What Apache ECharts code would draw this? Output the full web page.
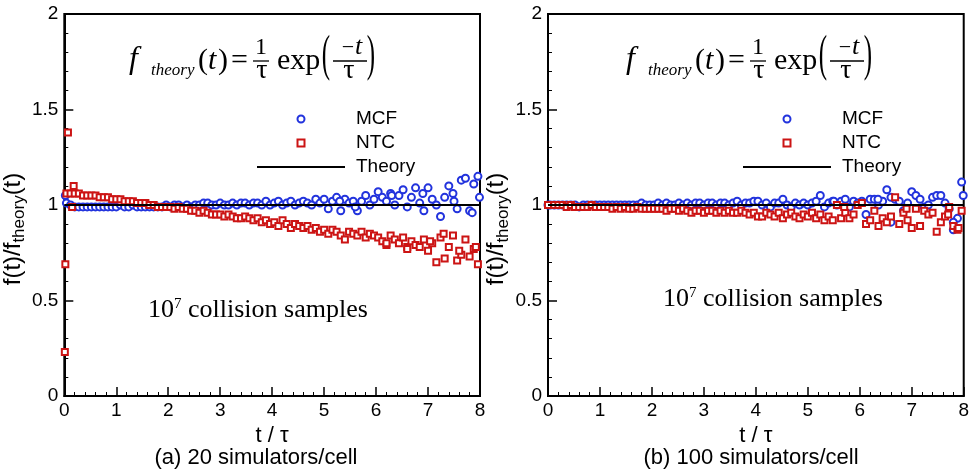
<!DOCTYPE html>
<html><head><meta charset="utf-8">
<script src="https://cdn.jsdelivr.net/npm/echarts@6/dist/echarts.min.js"></script>
<style>html,body{margin:0;padding:0;background:#fff}#c{width:972px;height:472px}</style>
</head><body><div id="c"></div>
<script>
// ---- data ----
const tGrid = [0.04,0.12,0.2,0.28,0.36,0.44,0.52,0.6,0.68,0.76,
  0.84,0.92,1,1.08,1.16,1.24,1.32,1.4,1.48,1.56,
  1.64,1.72,1.8,1.88,1.96,2.04,2.12,2.2,2.28,2.36,
  2.44,2.52,2.6,2.68,2.76,2.84,2.92,3,3.08,3.16,
  3.24,3.32,3.4,3.48,3.56,3.64,3.72,3.8,3.88,3.96,
  4.04,4.12,4.2,4.28,4.36,4.44,4.52,4.6,4.68,4.76,
  4.84,4.92,5,5.08,5.16,5.24,5.32,5.4,5.48,5.56,
  5.64,5.72,5.8,5.88,5.96,6.04,6.12,6.2,6.28,6.36,
  6.44,6.52,6.6,6.68,6.76,6.84,6.92,7,7.08,7.16,
  7.24,7.32,7.4,7.48,7.56,7.64,7.72,7.8,7.88,7.96];

// panel (a) 20 simulators/cell
const mcfA = [1.01,1.00,0.99,0.99,0.99,0.99,0.99,0.99,0.99,0.99,0.99,0.99,
  0.99,1.00,0.99,0.99,1.00,0.99,0.99,0.99,0.99,0.99,0.99,0.99,1.00,
  0.99,1.00,1.00,0.99,1.00,0.99,1.00,1.00,1.01,1.01,1.00,1.00,
  1.01,1.00,1.00,1.01,1.00,1.01,1.01,1.00,1.01,1.01,1.00,1.02,1.00,
  1.01,1.02,1.00,1.01,1.02,1.00,1.01,1.02,1.01,1.00,1.03,1.01,1.03,
  0.98,1.02,1.04,0.97,1.03,1.01,1.02,0.97,1.02,1.05,1.00,1.03,
  1.07,1.04,1.02,1.06,1.00,1.05,1.08,0.99,1.04,1.09,1.01,0.97,1.09,
  1.03,1.00,0.94,1.04,1.10,1.06,0.98,1.13,1.14,0.97,1.11,1.15];
const mcfAExtraT = [0.02,5.3,5.6,6.3,6.9,7.5,7.85,7.99];
const mcfAExtraV = [1.05,1.02,0.99,1.05,1.06,1.02,0.96,1.04];

const ntcA = [1.06,1.06,1.06,1.06,1.05,1.05,1.05,1.05,1.04,1.04,1.04,1.03,
  1.03,1.03,1.02,1.02,1.02,1.01,1.01,1.01,1.00,1.00,0.99,0.99,0.99,
  0.99,0.98,0.99,0.98,0.98,0.97,0.97,0.96,0.97,0.96,0.95,0.95,
  0.95,0.94,0.95,0.94,0.93,0.93,0.94,0.93,0.92,0.93,0.91,0.92,0.90,
  0.91,0.89,0.92,0.90,0.88,0.90,0.89,0.88,0.89,0.87,0.88,0.86,0.87,
  0.85,0.87,0.86,0.84,0.82,0.86,0.85,0.84,0.86,0.83,0.85,0.84,
  0.83,0.81,0.79,0.84,0.82,0.80,0.83,0.78,0.81,0.79,0.78,0.82,0.76,
  0.80,0.70,0.83,0.72,0.78,0.84,0.71,0.74,0.82,0.73,0.77,0.69];
const ntcAExtraT = [0.01,0.02,0.07,0.15,0.18,6.2,6.6,7.04,7.3,7.6,7.92];
const ntcAExtraV = [0.23,0.69,1.38,0.99,1.10,0.80,0.77,0.81,0.85,0.76,0.78];

// panel (b) 100 simulators/cell
const mcfB = [1.00,1.00,1.00,1.00,1.00,1.00,1.00,0.99,1.00,1.00,1.00,1.00,
  1.00,1.00,1.00,1.00,1.00,1.00,1.00,1.00,1.00,1.00,1.01,1.00,1.00,
  1.00,1.01,1.00,1.01,1.00,1.00,1.01,1.00,1.01,1.00,1.01,1.01,
  1.00,1.01,1.01,1.00,1.01,1.01,1.00,1.01,1.02,1.00,1.01,1.01,1.02,
  1.02,1.00,1.01,0.99,1.01,1.01,1.03,1.00,0.99,1.01,1.00,1.01,1.00,
  1.01,1.02,1.05,0.99,1.01,1.02,1.00,1.02,1.03,0.99,1.02,1.01,
  1.02,0.95,1.03,1.03,1.00,1.02,1.08,0.91,1.03,1.02,0.97,1.01,1.07,
  1.05,1.03,0.99,1.00,1.04,1.05,1.05,1.01,0.98,0.87,0.93,1.12];
const mcfBExtraT = [0.0,5.5,6.35,6.6,7.8,7.99];
const mcfBExtraV = [1.00,1.02,1.03,1.04,0.91,1.05];

const ntcB = [1.00,1.00,1.00,1.00,0.99,1.00,0.99,0.99,0.99,0.99,1.00,0.99,
  0.99,0.99,0.99,0.98,0.99,0.98,0.99,0.98,0.98,0.99,0.98,0.98,0.98,
  0.98,0.98,0.98,0.97,0.98,0.98,0.97,0.98,0.97,0.96,0.97,0.97,
  0.96,0.97,0.97,0.96,0.97,0.96,0.97,0.96,0.96,0.97,0.96,0.95,0.96,
  0.94,0.94,0.96,0.95,0.94,0.96,0.93,0.95,0.96,0.94,0.93,0.95,0.94,
  0.96,0.93,0.95,0.92,0.94,0.92,1.00,0.93,0.96,0.93,0.95,1.00,
  1.01,0.90,0.92,0.97,0.89,0.93,0.91,0.94,1.04,0.90,0.96,0.92,0.88,
  0.98,0.89,0.97,0.95,0.96,0.86,0.91,0.94,0.99,0.89,0.87,0.97];
const ntcBExtraT = [0.0,5.7,6.9,7.7,7.9];
const ntcBExtraV = [1.00,0.99,0.98,0.95,0.88];

const theoryT = [0, 8];
const theoryV = [1, 1];

const xTicks = {min: 0, max: 8, interval: 1};
const yTicks = {min: 0, max: 2, interval: 0.5};
const captions = ['(a) 20 simulators/cell', '(b) 100 simulators/cell'];

// ---- chart ----
const SANS = '"Liberation Sans", Arial, Helvetica, sans-serif';
const SERIF = '"Liberation Serif", "Times New Roman", serif';
const BLUE = '#2233dd', RED = '#cc1414';

function pairs(ts, vs) { return ts.map((t, i) => [t, vs[i]]); }

function xAx(gi) {
  return {
    type: 'value', gridIndex: gi, min: xTicks.min, max: xTicks.max, interval: xTicks.interval,
    name: 't / τ', nameLocation: 'middle', nameGap: 21,
    nameTextStyle: {fontSize: 22, fontFamily: SANS, color: '#000'},
    axisLine: {show: true, onZero: false, lineStyle: {color: '#000', width: 2}},
    axisTick: {show: true, inside: true, length: 9, lineStyle: {color: '#000', width: 1.5}},
    minorTick: {show: true, splitNumber: 5, length: 4, lineStyle: {color: '#000', width: 1}},
    axisLabel: {fontSize: 19, fontFamily: SANS, color: '#000', margin: 5},
    splitLine: {show: false}
  };
}
function yAx(gi) {
  return {
    type: 'value', gridIndex: gi, min: yTicks.min, max: yTicks.max, interval: yTicks.interval,
    name: '{m|f(t)/f}{s|theory}{m|(t)}', nameLocation: 'middle', nameGap: 23, nameRotate: 90,
    nameTextStyle: {
      color: '#000', padding: [0, 48, 0, 0],
      rich: {
        m: {fontSize: 24, fontFamily: SANS, color: '#000', lineHeight: 30},
        s: {fontSize: 17, fontFamily: SANS, color: '#000', lineHeight: 30, verticalAlign: 'bottom'}
      }
    },
    axisLine: {show: true, lineStyle: {color: '#000', width: 2}},
    axisTick: {show: true, inside: true, length: 9, lineStyle: {color: '#000', width: 1.5}},
    minorTick: {show: true, splitNumber: 5, length: 4, lineStyle: {color: '#000', width: 1}},
    axisLabel: {fontSize: 19, fontFamily: SANS, color: '#000', margin: 6},
    splitLine: {show: false}
  };
}
function legendAt(left) {
  return {
    orient: 'vertical', left: left, top: 104, itemWidth: 88, itemHeight: 7, itemGap: 4,
    selectedMode: false,
    data: [
      {name: 'MCF', icon: 'circle', itemStyle: {color: '#fff', borderColor: BLUE, borderWidth: 2, opacity: 1}},
      {name: 'NTC', icon: 'path://M0,0L10,0L10,10L0,10Z', itemStyle: {color: '#fff', borderColor: RED, borderWidth: 2, opacity: 1}},
      {name: 'Theory', icon: 'path://M0,0L88,0L88,2L0,2Z', itemStyle: {color: '#000', borderWidth: 0}}
    ],
    formatter: n => '{t|' + n + '}',
    textStyle: {color: '#000', fontSize: 19, fontFamily: SANS, lineHeight: 20,
      rich: {t: {fontSize: 19, fontFamily: SANS, color: '#000', lineHeight: 20, padding: [0, 0, 0, 6]}}}
  };
}
function scatter(name, data, gi) {
  const isC = name === 'MCF';
  return {
    type: 'scatter', name: name, xAxisIndex: gi, yAxisIndex: gi, data: data,
    symbol: isC ? 'emptyCircle' : 'emptyRect', symbolSize: isC ? 7 : 6,
    itemStyle: {color: isC ? BLUE : RED, borderWidth: 2, opacity: 1}, z: isC ? 2 : 3, silent: true
  };
}
function theory(gi) {
  return {
    type: 'line', name: 'Theory', xAxisIndex: gi, yAxisIndex: gi, data: pairs(theoryT, theoryV),
    symbol: 'none', lineStyle: {color: '#000', width: 2}, itemStyle: {color: '#000'}, z: 4, silent: true
  };
}
function formula(dx) {
  const T = (x, y, text, size, italic, align, extra) => Object.assign({
    type: 'text', x: x + dx, y: y,
    style: {text: text, fontSize: size, fontFamily: SERIF, fontStyle: italic ? 'italic' : 'normal',
      fill: '#000', align: align || 'left', verticalAlign: 'middle'}
  }, extra || {});
  const L = (x1, x2, y) => ({type: 'line', shape: {x1: x1 + dx, y1: y, x2: x2 + dx, y2: y},
    style: {stroke: '#000', lineWidth: 1.3}});
  return [
    T(129, 60, 'f', 32, true),
    T(151, 71, 'theory', 17, true),
    T(198, 61, '(', 30, false),
    T(208, 61, 't', 30, true),
    T(218, 61, ')', 30, false),
    T(231, 61, '=', 30, false),
    T(261, 48, '1', 24, false, 'center'),
    L(253, 269, 61),
    T(262, 71, 'τ', 28, false, 'center'),
    T(277, 61, 'exp', 30, false),
    T(326, 57, '(', 50, false, 'center', {scaleX: 0.5}),
    T(348, 48, '−', 22, false, 'center'),
    T(355, 47, 't', 26, true),
    L(333, 367, 61),
    T(349, 71, 'τ', 28, false, 'center'),
    T(371, 57, ')', 50, false, 'center', {scaleX: 0.5})
  ];
}
function samples(x, y) {
  return {
    type: 'text', x: x, y: y,
    style: {
      text: '{n|10}{s|7}{n| collision samples}', align: 'left', verticalAlign: 'middle',
      rich: {
        n: {fontSize: 26, fontFamily: SERIF, fill: '#000', lineHeight: 28},
        s: {fontSize: 15, fontFamily: SERIF, fill: '#000', lineHeight: 28, padding: [0, 0, 12, 0]}
      }
    }
  };
}
function caption(x, text) {
  return {type: 'text', x: x, y: 458,
    style: {text: text, fontSize: 22, fontFamily: SANS, fill: '#000', align: 'center', verticalAlign: 'middle'}};
}

const chart = echarts.init(document.getElementById('c'), null, {renderer: 'canvas'});
chart.setOption({
  animation: false,
  backgroundColor: '#fff',
  grid: [
    {left: 61, right: 492, top: 14, bottom: 76, show: true, borderColor: '#000', borderWidth: 2, backgroundColor: 'transparent'},
    {left: 548, right: 3, top: 14, bottom: 76, show: true, borderColor: '#000', borderWidth: 2, backgroundColor: 'transparent'}
  ],
  xAxis: [xAx(0), xAx(1)],
  yAxis: [yAx(0), yAx(1)],
  legend: [legendAt(252), legendAt(738)],
  series: [
    scatter('MCF', pairs(tGrid, mcfA).concat(pairs(mcfAExtraT, mcfAExtraV)), 0),
    scatter('NTC', pairs(tGrid, ntcA).concat(pairs(ntcAExtraT, ntcAExtraV)), 0),
    theory(0),
    scatter('MCF', pairs(tGrid, mcfB).concat(pairs(mcfBExtraT, mcfBExtraV)), 1),
    scatter('NTC', pairs(tGrid, ntcB).concat(pairs(ntcBExtraT, ntcBExtraV)), 1),
    theory(1)
  ],
  graphic: [].concat(
    formula(0), formula(497),
    [samples(148, 310), samples(663, 299), caption(256, captions[0]), caption(751, captions[1])]
  )
});
</script></body></html>
